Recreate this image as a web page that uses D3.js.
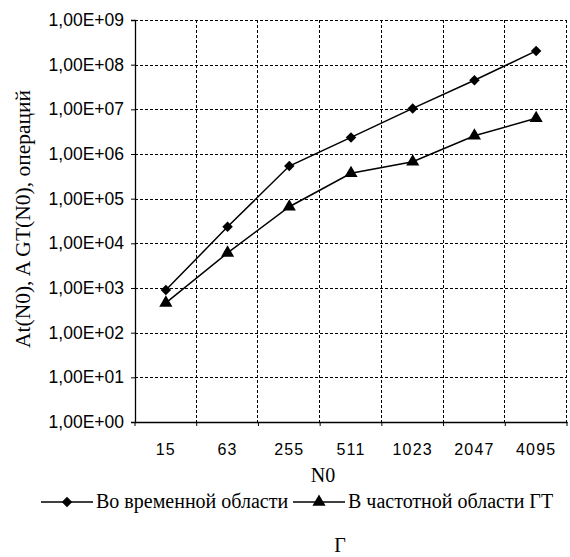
<!DOCTYPE html>
<html>
<head>
<meta charset="utf-8">
<script src="https://cdn.jsdelivr.net/npm/d3@7"></script>
<style>
  body { margin: 0; background: #fff; }
  svg { display: block; }
</style>
</head>
<body>
<script>
// data
var categories = ["15", "63", "255", "511", "1023", "2047", "4095"];
var timeDomain = [900, 23400, 537000, 2350000, 10500000, 44700000, 203000000];
var freqDomain = [465, 6100, 66000, 370000, 670000, 2560000, 6300000];
var yTicks = [1, 10, 100, 1e3, 1e4, 1e5, 1e6, 1e7, 1e8, 1e9];
var seriesNames = ["Во временной области", "В частотной области ГТ"];

var SANS = "'Liberation Sans', Arial, sans-serif";
var SERIF = "'Liberation Serif', 'Times New Roman', 'DejaVu Serif', serif";

var width = 570, height = 557;
var margin = {top: 20, right: 3, bottom: 135, left: 135};

var svg = d3.select("body").append("svg")
    .attr("width", width)
    .attr("height", height);

var x = d3.scaleBand()
    .domain(categories)
    .range([margin.left, width - margin.right]);

var y = d3.scaleLog()
    .domain([1, 1e9])
    .range([height - margin.bottom, margin.top]);

var fmt = function(d) {
  var e = Math.round(Math.log10(d));
  return "1,00E+" + (e < 10 ? "0" : "") + e;
};

// grid
var grid = svg.append("g").attr("class", "grid");
grid.selectAll("line.h")
    .data(yTicks.slice(1))
  .enter().append("line")
    .attr("x1", margin.left)
    .attr("x2", width - margin.right)
    .attr("y1", function(d) { return Math.round(y(d)) + 0.5; })
    .attr("y2", function(d) { return Math.round(y(d)) + 0.5; })
    .style("stroke", "#000")
    .style("stroke-dasharray", "3,2")
    .style("stroke-width", 1);

var bounds = categories.slice(1).map(function(c) { return x(c); }).concat([width - margin.right]);
grid.selectAll("line.v")
    .data(bounds)
  .enter().append("line")
    .attr("x1", function(d) { return Math.round(d) - 0.5; })
    .attr("x2", function(d) { return Math.round(d) - 0.5; })
    .attr("y1", margin.top)
    .attr("y2", height - margin.bottom)
    .style("stroke", "#000")
    .style("stroke-dasharray", "3,2")
    .style("stroke-width", 1);

// axes
var yaxis = d3.axisLeft(y).tickValues(yTicks).tickFormat(fmt).tickSize(4).tickPadding(7);
var gy = svg.append("g")
    .attr("transform", "translate(" + margin.left + ",0)")
    .call(yaxis);
gy.selectAll("text")
    .style("font-family", SANS)
    .style("font-size", "17.5px")
    .style("fill", "#000");

var xaxis = d3.axisBottom(x).tickSize(0).tickPadding(22);
var gx = svg.append("g")
    .attr("transform", "translate(0," + (height - margin.bottom) + ")")
    .call(xaxis);
gx.selectAll("text")
    .style("font-family", SANS)
    .style("font-size", "16px")
    .style("letter-spacing", "1.2px")
    .style("fill", "#000");
// ticks on category boundaries
gx.selectAll("line.bound")
    .data([margin.left].concat(bounds))
  .enter().append("line")
    .attr("class", "bound")
    .attr("x1", function(d) { return d; })
    .attr("x2", function(d) { return d; })
    .attr("y1", 0)
    .attr("y2", 4)
    .style("stroke", "#000");

svg.selectAll(".domain").style("stroke", "#000").style("stroke-width", 1.3);

// lines
var line = d3.line()
    .x(function(d, i) { return x(categories[i]) + x.bandwidth() / 2; })
    .y(function(d) { return y(d); });

[timeDomain, freqDomain].forEach(function(s) {
  svg.append("path")
      .datum(s)
      .attr("d", line)
      .style("fill", "none")
      .style("stroke", "#000")
      .style("stroke-width", 1.5);
});

var diamond = d3.symbol().type(d3.symbolSquare).size(55);
var triangle = d3.symbol().type(d3.symbolTriangle).size(75);

svg.selectAll("path.dia")
    .data(timeDomain)
  .enter().append("path")
    .attr("class", "dia")
    .attr("d", diamond)
    .attr("transform", function(d, i) {
      return "translate(" + (x(categories[i]) + x.bandwidth() / 2) + "," + y(d) + ") rotate(45)";
    })
    .style("fill", "#000");

svg.selectAll("path.tri")
    .data(freqDomain)
  .enter().append("path")
    .attr("class", "tri")
    .attr("d", triangle)
    .attr("transform", function(d, i) {
      return "translate(" + (x(categories[i]) + x.bandwidth() / 2) + "," + y(d) + ")";
    })
    .style("fill", "#000");

// axis titles
svg.append("text")
    .attr("transform", "translate(30,219) rotate(-90)")
    .attr("text-anchor", "middle")
    .style("font-family", SERIF)
    .style("font-size", "21.5px")
    .text("At(N0),  A GT(N0), операций");

svg.append("text")
    .attr("x", 323)
    .attr("y", 482)
    .attr("text-anchor", "middle")
    .style("font-family", SERIF)
    .style("font-size", "20px")
    .text("N0");

// legend
var legend = svg.append("g");
var legendItems = [
  {x: 41, name: seriesNames[0], sym: diamond, rot: " rotate(45)"},
  {x: 293, name: seriesNames[1], sym: triangle, rot: ""}
];
legendItems.forEach(function(it) {
  legend.append("line")
      .attr("x1", it.x).attr("x2", it.x + 52)
      .attr("y1", 502).attr("y2", 502)
      .style("stroke", "#000").style("stroke-width", 1.5);
  legend.append("path")
      .attr("d", it.sym)
      .attr("transform", "translate(" + (it.x + 26) + ",502)" + it.rot)
      .style("fill", "#000");
  legend.append("text")
      .attr("x", it.x + 55)
      .attr("y", 508)
      .style("font-family", SERIF)
      .style("font-size", "20px")
      .text(it.name);
});

svg.append("text")
    .attr("x", 340)
    .attr("y", 552)
    .attr("text-anchor", "middle")
    .style("font-family", SERIF)
    .style("font-size", "20px")
    .text("Г");
</script>
</body>
</html>
